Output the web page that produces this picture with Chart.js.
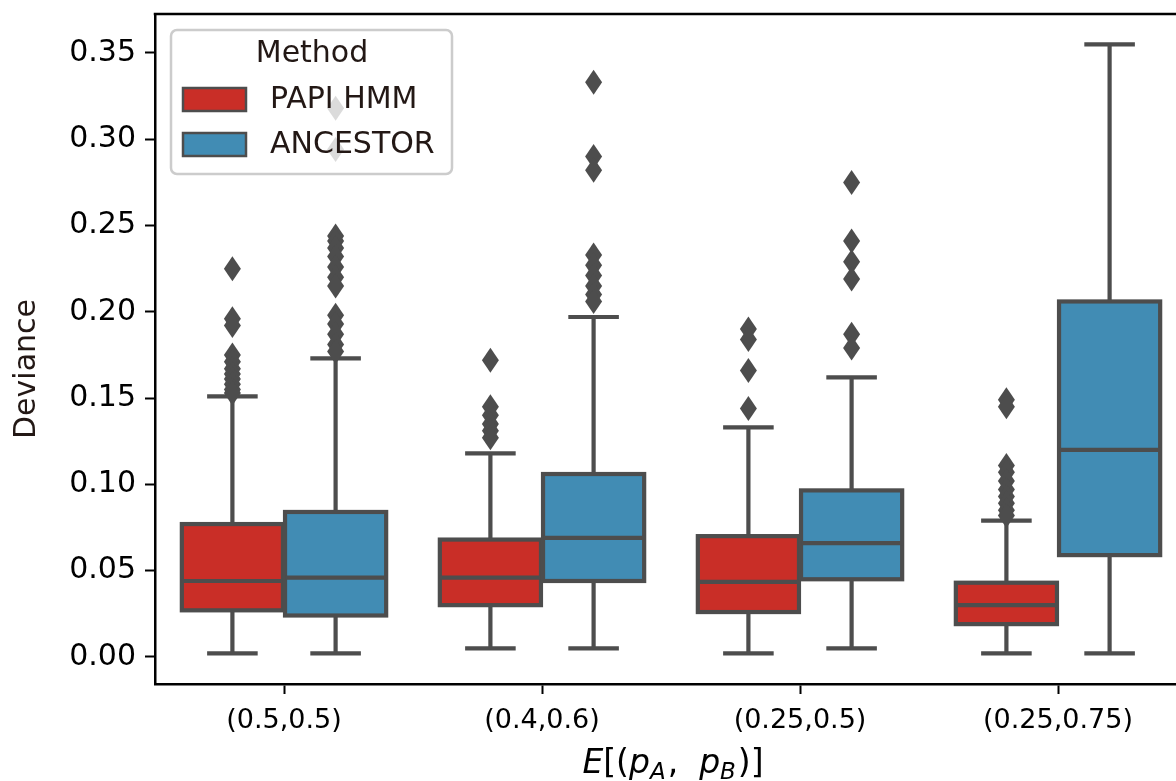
<!DOCTYPE html>
<html>
<head>
<meta charset="utf-8">
<script src="https://cdn.jsdelivr.net/npm/chart.js@4/dist/chart.umd.min.js"></script>
<style>
  html, body { margin: 0; padding: 0; background: #fff; overflow: hidden; }
  #wrap { width: 1176px; height: 781px; overflow: hidden; }
</style>
</head>
<body>
<div id="wrap"><canvas id="devChart" width="1200" height="781"></canvas></div>
<script>
// categories and axis ticks
let categories = ['(0.5,0.5)', '(0.4,0.6)', '(0.25,0.5)', '(0.25,0.75)'];
let yTicks = [0, 0.05, 0.10, 0.15, 0.20, 0.25, 0.30, 0.35];

// PAPI HMM box stats
let papiLow = [0.002, 0.005, 0.002, 0.002];
let papiQ1 = [0.027, 0.030, 0.026, 0.019];
let papiMed = [0.044, 0.046, 0.0435, 0.030];
let papiQ3 = [0.077, 0.068, 0.070, 0.043];
let papiHigh = [0.151, 0.118, 0.133, 0.079];
let papiOutliers = [
    [0.225, 0.196, 0.192, 0.175, 0.171, 0.167, 0.164, 0.161, 0.158, 0.155, 0.153],
    [0.172, 0.145, 0.140, 0.135, 0.131, 0.127],
    [0.190, 0.184, 0.166, 0.144],
    [0.149, 0.145, 0.111, 0.107, 0.102, 0.097, 0.093, 0.089, 0.085, 0.082]
];

// ANCESTOR box stats
let ancLow = [0.002, 0.005, 0.005, 0.002];
let ancQ1 = [0.024, 0.044, 0.045, 0.059];
let ancMed = [0.046, 0.069, 0.066, 0.120];
let ancQ3 = [0.084, 0.106, 0.0965, 0.206];
let ancHigh = [0.173, 0.197, 0.162, 0.355];
let ancOutliers = [
    [0.318, 0.294, 0.244, 0.241, 0.237, 0.232, 0.226, 0.220, 0.215, 0.198, 0.193, 0.187, 0.181, 0.177],
    [0.333, 0.290, 0.282, 0.233, 0.227, 0.221, 0.215, 0.210, 0.206],
    [0.275, 0.241, 0.229, 0.219, 0.187, 0.179],
    []
];

const LINE = '#4d4d4d';
const RED = '#c92e27';
const BLUE = '#418cb4';
const TEXT = '#231815';

function boxes(q1, q3) {
    return q1.map((v, i) => [v, q3[i]]);
}

// whiskers, caps, medians, fliers and box outlines on top of the floating bars
const boxParts = {
    id: 'boxParts',
    afterDatasetsDraw(chart) {
        let ctx = chart.ctx;
        let y = chart.scales.y;
        ctx.save();
        ctx.strokeStyle = LINE;
        ctx.fillStyle = LINE;
        ctx.lineWidth = 4.2;
        chart.data.datasets.forEach((ds, di) => {
            let meta = chart.getDatasetMeta(di);
            meta.data.forEach((bar, i) => {
                let x = bar.x;
                let w = bar.width;
                let top = Math.min(bar.y, bar.base);
                let bottom = Math.max(bar.y, bar.base);
                let hi = y.getPixelForValue(ds.whiskerHigh[i]);
                let lo = y.getPixelForValue(ds.whiskerLow[i]);
                let med = y.getPixelForValue(ds.median[i]);

                ctx.beginPath();
                ctx.moveTo(x, top); ctx.lineTo(x, hi);
                ctx.moveTo(x, bottom); ctx.lineTo(x, lo);
                ctx.moveTo(x - w / 4, hi); ctx.lineTo(x + w / 4, hi);
                ctx.moveTo(x - w / 4, lo); ctx.lineTo(x + w / 4, lo);
                ctx.stroke();

                ctx.strokeRect(x - w / 2, top, w, bottom - top);

                ctx.beginPath();
                ctx.moveTo(x - w / 2, med); ctx.lineTo(x + w / 2, med);
                ctx.stroke();

                ds.outliers[i].forEach(v => {
                    let py = y.getPixelForValue(v);
                    ctx.beginPath();
                    ctx.moveTo(x, py - 12.5);
                    ctx.lineTo(x + 8.5, py);
                    ctx.lineTo(x, py + 12.5);
                    ctx.lineTo(x - 8.5, py);
                    ctx.closePath();
                    ctx.fill();
                });
            });
        });
        ctx.restore();
    },
    afterDraw(chart) {
        let ctx = chart.ctx;
        let area = chart.chartArea;
        ctx.save();

        // top and right spines
        ctx.strokeStyle = '#000';
        ctx.lineWidth = 2.5;
        ctx.beginPath();
        ctx.moveTo(area.left - 1.25, area.top);
        ctx.lineTo(area.right, area.top);
        ctx.lineTo(area.right, area.bottom);
        ctx.stroke();

        // y label
        ctx.fillStyle = TEXT;
        ctx.font = '30px "DejaVu Sans"';
        ctx.textAlign = 'center';
        ctx.textBaseline = 'middle';
        ctx.translate(27, 369);
        ctx.rotate(-Math.PI / 2);
        ctx.fillText('Deviance', 0, 0);
        ctx.setTransform(1, 0, 0, 1, 0, 0);

        // x label, E[(p_A, p_B)]
        let parts = [
            { t: 'E', it: true }, { t: '[(', it: false }, { t: 'p', it: true },
            { t: 'A', it: true, sub: true }, { t: ',  ', it: false }, { t: 'p', it: true },
            { t: 'B', it: true, sub: true }, { t: ')]', it: false }
        ];
        let fontFor = p => (p.it ? 'italic ' : '') + (p.sub ? '23px' : '33px') + ' "DejaVu Sans"';
        let total = 0;
        parts.forEach(p => { ctx.font = fontFor(p); total += ctx.measureText(p.t).width; });
        let cx = (area.left + area.right) / 2 - total / 2;
        ctx.fillStyle = '#000';
        ctx.textAlign = 'left';
        ctx.textBaseline = 'alphabetic';
        parts.forEach(p => {
            ctx.font = fontFor(p);
            ctx.fillText(p.t, cx, p.sub ? 779 : 773);
            cx += ctx.measureText(p.t).width + (p.sub ? 2 : 0);
        });

        // legend
        let lx = area.left + 16, ly = area.top + 16, lw = 281, lh = 144;
        ctx.fillStyle = 'rgba(255,255,255,0.8)';
        ctx.strokeStyle = '#cccccc';
        ctx.lineWidth = 2.5;
        ctx.beginPath();
        ctx.roundRect(lx, ly, lw, lh, 6);
        ctx.fill();
        ctx.stroke();

        ctx.fillStyle = TEXT;
        ctx.font = '30px "DejaVu Sans"';
        ctx.textAlign = 'center';
        ctx.textBaseline = 'middle';
        ctx.fillText('Method', lx + 141, ly + 24);

        ctx.textAlign = 'left';
        chart.data.datasets.forEach((ds, di) => {
            let ry = ly + 58 + di * 45;
            ctx.fillStyle = ds.backgroundColor;
            ctx.fillRect(lx + 12, ry, 63, 23);
            ctx.strokeStyle = LINE;
            ctx.lineWidth = 2.5;
            ctx.strokeRect(lx + 12, ry, 63, 23);
            ctx.fillStyle = TEXT;
            ctx.fillText(ds.label, lx + 99, ry + 12);
        });
        ctx.restore();
    }
};

function noPadding(scale) {
    scale.paddingTop = 0;
    scale.paddingBottom = 0;
    scale.paddingLeft = 0;
    scale.paddingRight = 0;
}

let ctx = document.getElementById('devChart');
let myChart = new Chart(ctx, {
    type: 'bar',
    data: {
        labels: categories,
        datasets: [
            {
                label: 'PAPI HMM',
                data: boxes(papiQ1, papiQ3),
                backgroundColor: RED,
                borderWidth: 0,
                whiskerLow: papiLow,
                whiskerHigh: papiHigh,
                median: papiMed,
                outliers: papiOutliers
            },
            {
                label: 'ANCESTOR',
                data: boxes(ancQ1, ancQ3),
                backgroundColor: BLUE,
                borderWidth: 0,
                whiskerLow: ancLow,
                whiskerHigh: ancHigh,
                median: ancMed,
                outliers: ancOutliers
            }
        ]
    },
    options: {
        responsive: false,
        animation: false,
        devicePixelRatio: 1,
        categoryPercentage: 0.8,
        barPercentage: 0.98,
        layout: { padding: { top: 14, right: 13, left: 0, bottom: 0 } },
        plugins: {
            legend: { display: false },
            tooltip: { enabled: false }
        },
        scales: {
            x: {
                grid: { offset: false, drawOnChartArea: false, drawTicks: true, tickLength: 10, tickWidth: 2, tickColor: '#000' },
                border: { display: true, color: '#000', width: 2.5 },
                ticks: { color: '#000', font: { family: 'DejaVu Sans', size: 27 }, padding: 11, maxRotation: 0 },
                afterFit(scale) { scale.height = 97; noPadding(scale); }
            },
            y: {
                min: -0.0157,
                max: 0.3726,
                grid: { drawOnChartArea: false, drawTicks: true, tickLength: 10, tickWidth: 2, tickColor: '#000' },
                border: { display: true, color: '#000', width: 2.5 },
                ticks: {
                    color: '#000',
                    font: { family: 'DejaVu Sans', size: 30 },
                    padding: 9,
                    callback: v => v.toFixed(2)
                },
                afterBuildTicks(scale) { scale.ticks = yTicks.map(v => ({ value: v })); },
                afterFit(scale) { scale.width = 155; noPadding(scale); }
            }
        }
    },
    plugins: [boxParts]
});
</script>
</body>
</html>
